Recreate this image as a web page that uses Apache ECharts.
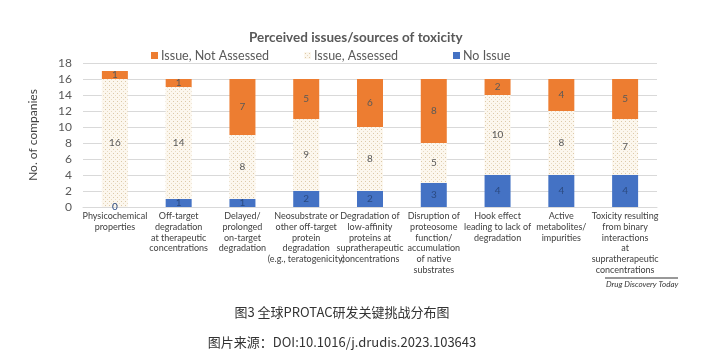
<!DOCTYPE html>
<html>
<head>
<meta charset="utf-8">
<script src="https://cdn.jsdelivr.net/npm/echarts@6/dist/echarts.min.js"></script>
<style>html,body{margin:0;padding:0;background:#fff;}#c{width:704px;height:363px;}</style>
</head>
<body>
<div id="c"></div>
<script>
const categories = [
  "Physicochemical\nproperties",
  "Off-target\ndegradation\nat therapeutic\nconcentrations",
  "Delayed/\nprolonged\non-target\ndegradation",
  "Neosubstrate or\nother off-target\nprotein\ndegradation\n(e.g., teratogenicity)",
  "Degradation of\nlow-affinity\nproteins at\nsupratherapeutic\nconcentrations",
  "Disruption of\nproteosome\nfunction/\naccumulation\nof native\nsubstrates",
  "Hook effect\nleading to lack of\ndegradation",
  "Active\nmetabolites/\nimpurities",
  "Toxicity resulting\nfrom binary\ninteractions\nat\nsupratherapeutic\nconcentrations"
];
const noIssue = [0, 1, 1, 2, 2, 3, 4, 4, 4];
const issueAssessed = [16, 14, 8, 9, 8, 5, 10, 8, 7];
const issueNotAssessed = [1, 1, 7, 5, 6, 8, 2, 4, 5];
const yTicks = [0, 2, 4, 6, 8, 10, 12, 14, 16, 18];
const seriesNames = ['Issue, Not Assessed', 'Issue, Assessed', 'No Issue'];

const pc = document.createElement('canvas');
pc.width = 4; pc.height = 4;
const ctx = pc.getContext('2d');
ctx.fillStyle = '#FCF7EE'; ctx.fillRect(0, 0, 4, 4);
ctx.fillStyle = '#DCC9A8'; ctx.fillRect(1, 1, 1, 1);
ctx.fillStyle = '#E8DAC2'; ctx.fillRect(3, 3, 1, 1);
const pattern = { image: pc, repeat: 'repeat' };

const FONT = 'Lato';
const legendLefts = [146, 299, 448];
const chart = echarts.init(document.getElementById('c'));
chart.setOption({
  animation: false,
  title: {
    text: 'Perceived issues/sources of toxicity',
    left: 244, top: 26,
    textStyle: { fontFamily: FONT, fontSize: 13.5, fontWeight: 'bold', color: '#595959' }
  },
  legend: seriesNames.map((n, i) => ({
    top: 44, left: legendLefts[i],
    icon: 'rect', itemWidth: 7, itemHeight: 7, itemGap: 3,
    data: [n],
    textStyle: { fontFamily: FONT, fontSize: 12.5, color: '#595959', padding: [0, 0, 0, -2] }
  })),
  grid: { left: 83, right: 47, top: 63, bottom: 156 },
  xAxis: {
    type: 'category', data: categories,
    axisTick: { show: false },
    axisLine: { lineStyle: { color: '#D9D9D9' } },
    axisLabel: { interval: 0, fontFamily: FONT, fontSize: 9, lineHeight: 10.7, color: '#404040', margin: 4 }
  },
  yAxis: {
    type: 'value', min: yTicks[0], max: yTicks[yTicks.length - 1], interval: 2,
    name: 'No. of companies', nameLocation: 'middle', nameGap: 44,
    nameTextStyle: { fontFamily: FONT, fontSize: 12, color: '#404040' },
    axisLine: { show: false }, axisTick: { show: false },
    axisLabel: { fontFamily: FONT, fontSize: 12, color: '#595959', margin: 11 },
    splitLine: { lineStyle: { color: '#D9D9D9' } }
  },
  series: [
    {
      name: 'No Issue', type: 'bar', stack: 's', barWidth: 26, data: noIssue,
      itemStyle: { color: '#4472C4' },
      label: { show: true, position: 'inside', fontFamily: FONT, fontSize: 10, color: '#2B4A80' }
    },
    {
      name: 'Issue, Assessed', type: 'bar', stack: 's', data: issueAssessed,
      itemStyle: { color: pattern },
      label: { show: true, position: 'inside', fontFamily: FONT, fontSize: 10, color: '#595959' }
    },
    {
      name: 'Issue, Not Assessed', type: 'bar', stack: 's', data: issueNotAssessed,
      itemStyle: { color: '#ED7D31' },
      label: { show: true, position: 'inside', fontFamily: FONT, fontSize: 10, color: '#595959' }
    }
  ],
  graphic: [
    { type: 'line', shape: { x1: 605, y1: 278, x2: 678, y2: 278 }, style: { stroke: '#333', lineWidth: 1 } },
    { type: 'text', left: 606, top: 280, style: { text: 'Drug Discovery Today', font: 'italic 8px Lato', fill: '#333' } },
    { type: 'text', x: 342, y: 312, style: { text: '图3 全球PROTAC研发关键挑战分布图', font: '13px "Noto Sans CJK SC"', fill: '#333', align: 'center', verticalAlign: 'middle' } },
    { type: 'text', x: 342, y: 342, style: { text: '图片来源：DOI:10.1016/j.drudis.2023.103643', font: '13px "Noto Sans CJK SC"', fill: '#333', align: 'center', verticalAlign: 'middle' } }
  ]
});
</script>
</body>
</html>
